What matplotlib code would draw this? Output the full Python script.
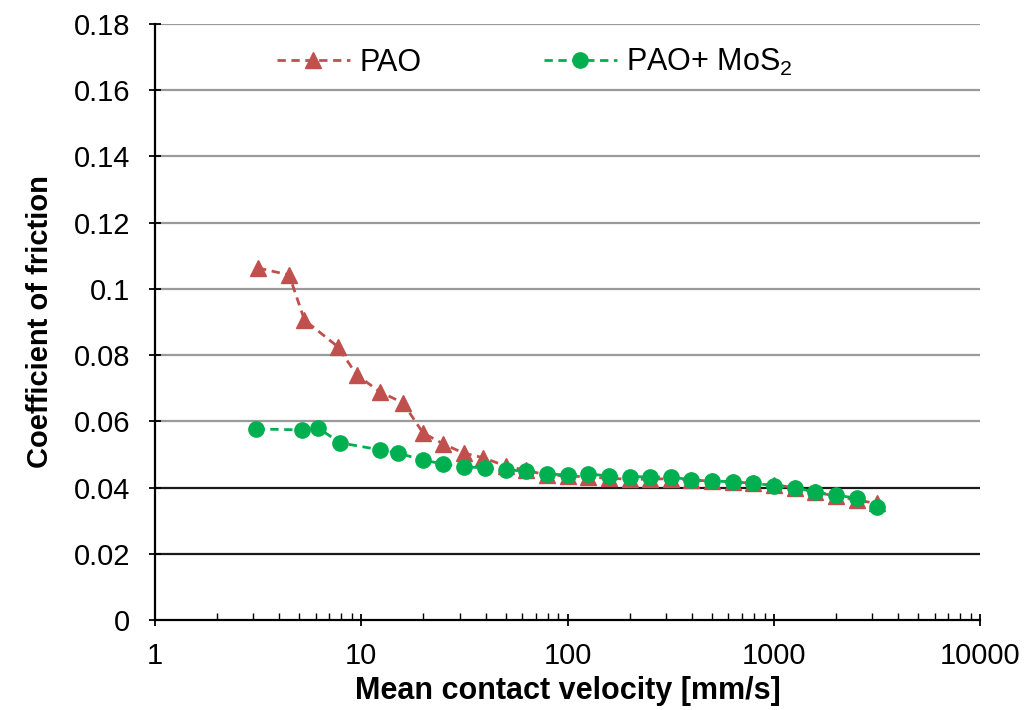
import numpy as np
import matplotlib.pyplot as plt
from matplotlib.ticker import LogLocator, FixedLocator, NullFormatter

plt.rcParams['font.family'] = ['Liberation Sans', 'DejaVu Sans']
plt.rcParams['mathtext.default'] = 'regular'

# PAO (red triangles)
pao_v = [3.16, 4.47, 5.3, 7.7, 9.5, 12.3, 15.9, 19.9, 24.9, 31.3, 39.0,
         50, 63, 79, 100, 126, 158, 200, 251, 316, 398, 501, 631, 794,
         1000, 1259, 1585, 1995, 2512, 3162]
pao_cof = [0.1063, 0.1042, 0.0906, 0.0825, 0.074, 0.0689, 0.0656, 0.0565,
           0.0532, 0.0504, 0.0490, 0.0465, 0.0452, 0.0438, 0.0435, 0.0432,
           0.0428, 0.0425, 0.0425, 0.0427, 0.0422, 0.0420, 0.0417, 0.0413,
           0.0408, 0.0400, 0.0385, 0.0375, 0.0362, 0.0352]

# PAO + MoS2 (green circles)
mos2_v = [3.1, 5.16, 6.17, 7.9, 12.3, 15.1, 19.9, 24.9, 31.3, 39.8,
          50, 63, 79, 100, 126, 158, 200, 251, 316, 398, 501, 631, 794,
          1000, 1259, 1585, 1995, 2512, 3162]
mos2_cof = [0.0577, 0.0574, 0.0580, 0.0535, 0.0514, 0.0504, 0.0483, 0.0471,
            0.0462, 0.0460, 0.0453, 0.0450, 0.0441, 0.0438, 0.0441, 0.0435,
            0.0433, 0.0432, 0.0432, 0.0423, 0.0420, 0.0417, 0.0414, 0.0405,
            0.0399, 0.0387, 0.0377, 0.0368, 0.0340]

y_ticks = [0, 0.02, 0.04, 0.06, 0.08, 0.1, 0.12, 0.14, 0.16, 0.18]
y_tick_labels = ['0', '0.02', '0.04', '0.06', '0.08', '0.1', '0.12', '0.14', '0.16', '0.18']
x_ticks = [1, 10, 100, 1000, 10000]
x_tick_labels = ['1', '10', '100', '1000', '10000']

fig = plt.figure(figsize=(10.36, 7.10), dpi=100)
ax = fig.add_axes([0.1496, 0.1268, 0.7967, 0.8394])

# horizontal gridlines: lower ones dark, upper ones gray
for yv in y_ticks[1:]:
    col = '#1a1a1a' if yv <= 0.04 else '#9a9a9a'
    ax.axhline(yv, color=col, lw=1.6, zorder=1)

ax.plot(pao_v, pao_cof, color='#C0504D', ls=(0, (3, 2)), lw=2.0,
        marker='^', ms=11, label='PAO', zorder=3)
ax.plot(mos2_v, mos2_cof, color='#00B050', ls=(0, (3, 2)), lw=2.0,
        marker='o', ms=11, label='PAO+ MoS$_2$', zorder=4)

ax.set_xscale('log')
ax.set_xlim(1, 10000)
ax.set_ylim(0, 0.18)
ax.xaxis.set_major_locator(FixedLocator(x_ticks))
ax.set_xticklabels(x_tick_labels)
ax.xaxis.set_minor_locator(LogLocator(base=10, subs=np.arange(2, 10)))
ax.xaxis.set_minor_formatter(NullFormatter())
ax.set_yticks(y_ticks)
ax.set_yticklabels(y_tick_labels)

ax.tick_params(axis='both', which='major', labelsize=21, direction='inout',
               length=8, width=1.3, color='black')
ax.tick_params(axis='x', which='minor', direction='in', length=5, width=1.0)
ax.tick_params(axis='x', which='major', pad=12)
ax.tick_params(axis='y', which='major', pad=14)

for s in ['top', 'right']:
    ax.spines[s].set_visible(False)
for s in ['left', 'bottom']:
    ax.spines[s].set_linewidth(1.6)
    ax.spines[s].set_zorder(5)

ax.set_xlabel('Mean contact velocity [mm/s]', fontsize=22, fontweight='bold', labelpad=4)
ax.set_ylabel('Coefficient of friction', fontsize=21, fontweight='bold', labelpad=14)

ax.legend(loc='center', bbox_to_anchor=(0.46, 0.936), ncol=2, frameon=False,
          fontsize=22, columnspacing=4.0, handlelength=2.4, handletextpad=0.3)

fig.savefig('out.png', dpi=100)
